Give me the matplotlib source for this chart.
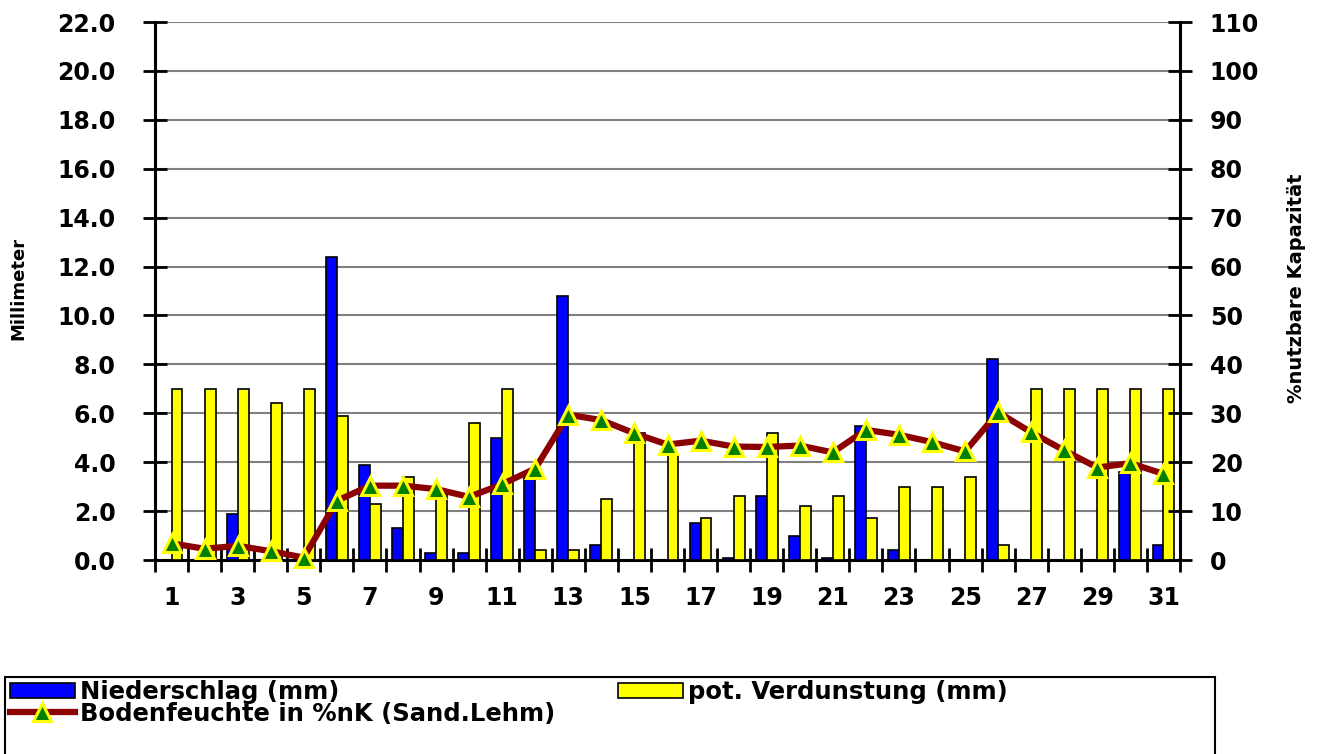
import matplotlib
matplotlib.use("Agg")
import matplotlib.pyplot as plt
from matplotlib.patches import Rectangle, Patch
from matplotlib.lines import Line2D

days = list(range(1, 32))
niederschlag = [0, 0, 1.9, 0, 0, 12.4, 3.9, 1.3, 0.3, 0.3, 5.0, 3.5, 10.8, 0.6, 0, 0,
                1.5, 0.1, 2.6, 1.0, 0.1, 5.5, 0.4, 0, 0, 8.2, 0, 0, 0, 3.6, 0.6]
verdunstung = [7.0, 7.0, 7.0, 6.4, 7.0, 5.9, 2.3, 3.4, 2.7, 5.6, 7.0, 0.4, 0.4, 2.5, 5.2, 4.3,
               1.7, 2.6, 5.2, 2.2, 2.6, 1.7, 3.0, 3.0, 3.4, 0.6, 7.0, 7.0, 7.0, 7.0, 7.0]
bodenfeuchte = [3.4, 2.3, 2.9, 1.8, 0.5, 12.1, 15.2, 15.2, 14.5, 12.9, 15.5, 18.7, 29.7, 28.6,
                25.9, 23.6, 24.4, 23.2, 23.1, 23.4, 22.0, 26.6, 25.6, 24.1, 22.2, 30.2, 26.1,
                22.4, 18.9, 19.8, 17.6]
left_ticks = [0, 2, 4, 6, 8, 10, 12, 14, 16, 18, 20, 22]
left_labels = ["0.0", "2.0", "4.0", "6.0", "8.0", "10.0", "12.0", "14.0", "16.0", "18.0", "20.0", "22.0"]
right_ticks = [0, 10, 20, 30, 40, 50, 60, 70, 80, 90, 100, 110]
x_label_days = [1, 3, 5, 7, 9, 11, 13, 15, 17, 19, 21, 23, 25, 27, 29, 31]

plt.rcParams['font.family'] = ['DejaVu Sans']
plt.rcParams['font.weight'] = 'bold'

W, H = 1318, 754
fig = plt.figure(figsize=(W / 100, H / 100), dpi=100)
ax = fig.add_axes([155 / W, 1 - 560 / H, (1180 - 155) / W, (560 - 22) / H])
ax2 = ax.twinx()

bw = 0.33
xs = [d for d in days]
ax.bar([x - bw / 2 for x in xs], niederschlag, width=bw, color='#0000ff',
       edgecolor='black', linewidth=1.2, zorder=3)
ax.bar([x + bw / 2 for x in xs], verdunstung, width=bw, color='#ffff00',
       edgecolor='black', linewidth=1.2, zorder=3)

ax2.plot(xs, bodenfeuchte, color='#8b0000', linewidth=4.5, marker='^', markersize=13,
         markerfacecolor='#008000', markeredgecolor='#ffff00', markeredgewidth=2.2,
         zorder=5, clip_on=False)

ax.set_xlim(0.5, 31.5)
ax.set_ylim(0, 22)
ax2.set_ylim(0, 110)

ax.set_yticks(left_ticks)
ax.set_yticklabels(left_labels)
ax2.set_yticks(right_ticks)
ax2.set_yticklabels([str(v) for v in right_ticks])

ax.set_xticks(x_label_days)
ax.set_xticklabels([str(d) for d in x_label_days])
ax.set_xticks([d + 0.5 for d in range(0, 32)], minor=True)

ax.yaxis.grid(True, color='#808080', linewidth=1.5, zorder=0)
ax.set_axisbelow(True)

for a in (ax, ax2):
    a.spines['top'].set_visible(False)
ax.spines['right'].set_visible(False)
ax2.spines['left'].set_visible(False)
ax2.spines['bottom'].set_visible(False)
for s in ('left', 'bottom'):
    ax.spines[s].set_linewidth(2.2)
ax2.spines['right'].set_linewidth(2.2)

ax.tick_params(axis='y', direction='inout', length=17, width=2.0, pad=20, labelsize=17)
ax2.tick_params(axis='y', direction='inout', length=17, width=2.0, pad=13, labelsize=17)
ax.tick_params(axis='x', which='major', length=0, pad=19, labelsize=17)
ax.tick_params(axis='x', which='minor', direction='inout', length=17, width=2.0)
for lab in ax.get_yticklabels() + ax2.get_yticklabels() + ax.get_xticklabels():
    lab.set_fontweight('bold')

fig.text(18 / W, 1 - 288 / H, 'Millimeter', rotation=90, ha='center', va='center',
         fontsize=13, fontweight='bold')
fig.text(1296 / W, 1 - 288 / H, '%nutzbare Kapazität', rotation=90, ha='center', va='center',
         fontsize=14, fontweight='bold')

# legend frame
fig.patches.append(Rectangle((5 / W, -0.05), (1215 - 5) / W, 0.05 + 1 - 677 / H,
                             transform=fig.transFigure, facecolor='white',
                             edgecolor='black', linewidth=1.5, zorder=0))

handles = [
    Patch(facecolor='#0000ff', edgecolor='black', linewidth=1.2),
    Line2D([0], [0], color='#8b0000', linewidth=4.5, marker='^', markersize=13,
           markerfacecolor='#008000', markeredgecolor='#ffff00', markeredgewidth=2.2),
    Patch(facecolor='#ffff00', edgecolor='black', linewidth=1.2),
]
labels = ['Niederschlag (mm)', 'Bodenfeuchte in %nK (Sand.Lehm)', 'pot. Verdunstung (mm)']
leg = fig.legend(handles, labels, loc='upper left', bbox_to_anchor=(10 / W, 1 - 680 / H),
                 ncol=2, frameon=False, handlelength=2.67, handleheight=0.6,
                 handletextpad=0.2, columnspacing=2.6, labelspacing=-0.1,
                 borderpad=0, borderaxespad=0, prop={'weight': 'bold', 'size': 17.5})

fig.savefig('out.png', dpi=100)
